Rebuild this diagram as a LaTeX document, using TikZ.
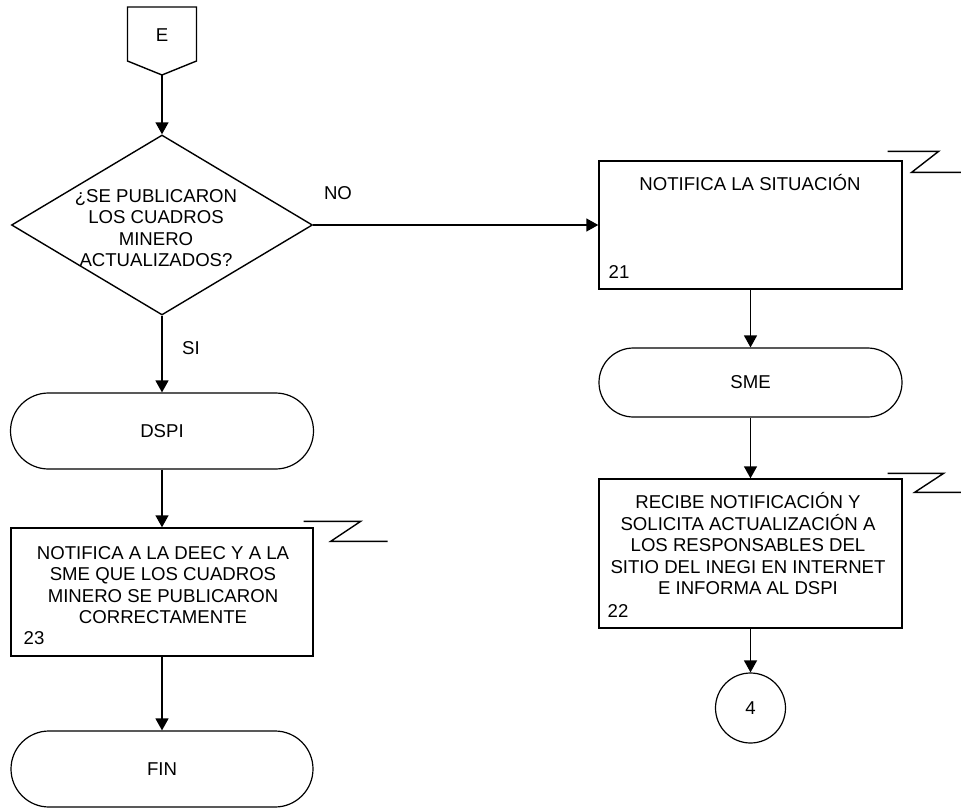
\documentclass[tikz,border=0pt]{standalone}
\usepackage{fontspec}
\setmainfont{Liberation Sans}
\usetikzlibrary{arrows.meta,shapes.geometric,shapes.misc}
\begin{document}
\begin{tikzpicture}[x=1pt,y=-1pt,
  line width=1.4pt,
  every node/.style={font=\fontsize{18.6}{21.5}\selectfont},
  box/.style={draw, rectangle, inner sep=0pt, line width=1.4pt},
  term/.style={draw, rounded rectangle, inner sep=0pt, line width=1.2pt},
  dec/.style={draw, diamond, inner sep=0pt, line width=1.4pt},
  conn/.style={draw, circle, inner sep=0pt, line width=1.2pt},
  arr/.style={-{Triangle[length=12pt,width=13pt]}},
  txt/.style={align=center, inner sep=0pt},
  num/.style={anchor=west, inner sep=0pt},
  zig/.style={line width=1.4pt}]
\useasboundingbox (0,0) rectangle (961,808);

% off-page connector E
\draw (127.5,7) -- (196.5,7) -- (196.5,61) -- (162,75) -- (127.5,61) -- cycle;
\node[txt] (E) at (162,35) {E};
\coordinate (Ept) at (162,75);

% decision
\node[dec, minimum width=301pt, minimum height=180pt] (dec) at (162,225) {};
\node[txt] (dect) at (156,228) {¿SE PUBLICARON\\LOS CUADROS\\MINERO\\ACTUALIZADOS?};

% left column
\node[term, minimum width=303pt, minimum height=76pt] (dspi) at (162,431) {DSPI};
\node[box, minimum width=302pt, minimum height=128pt] (b23) at (162,592) {};
\node[txt] (b23t) at (163,585) {NOTIFICA A LA DEEC Y A LA\\SME QUE LOS CUADROS\\MINERO SE PUBLICARON\\CORRECTAMENTE};
\node[num] (n23) at (23,638) {23};
\node[term, minimum width=302pt, minimum height=76pt] (fin) at (162,769) {FIN};

% right column
\node[box, minimum width=303pt, minimum height=128pt] (b21) at (750.5,225) {};
\node[txt] (b21t) at (750,183) {NOTIFICA LA SITUACIÓN};
\node[num] (n21) at (608,272) {21};
\node[term, minimum width=303pt, minimum height=69pt] (sme) at (750.5,382.5) {SME};
\node[box, minimum width=303pt, minimum height=149pt] (b22) at (750.5,553.5) {};
\node[txt] (b22t) at (748,544) {RECIBE NOTIFICACIÓN Y\\SOLICITA ACTUALIZACIÓN A\\LOS RESPONSABLES DEL\\SITIO DEL INEGI EN INTERNET\\E INFORMA AL DSPI};
\node[num] (n22) at (607,611) {22};
\node[conn, minimum size=70pt] (c4) at (750.5,708) {4};

% labels
\node[txt] (no) at (338,193) {NO};
\node[txt] (si) at (191,348) {SI};

% connectors
\draw[arr] (Ept) -- (dec.north);
\draw[arr] (dec.south) -- (dspi.north);
\draw[arr] (dspi.south) -- (b23.north);
\draw[arr] (b23.south) -- (fin.north);
\draw[arr] (dec.east) -- (b21.west);
\draw[arr] (b21.south) -- (sme.north);
\draw[arr] (sme.south) -- (b22.north);
\draw[arr] (b22.south) -- (c4.north);

% zigzag marks
\draw[zig] (b21.north east) ++(-15,-9) -- ++(51,0) -- ++(-27,21) -- ++(50,0);
\draw[zig] (b22.north east) ++(-15,-5) -- ++(56,0) -- ++(-29,19) -- ++(47,0);
\draw[zig] (b23.north east) ++(-10,-6) -- ++(57,0) -- ++(-30,20) -- ++(57,0);
\end{tikzpicture}
\end{document}
